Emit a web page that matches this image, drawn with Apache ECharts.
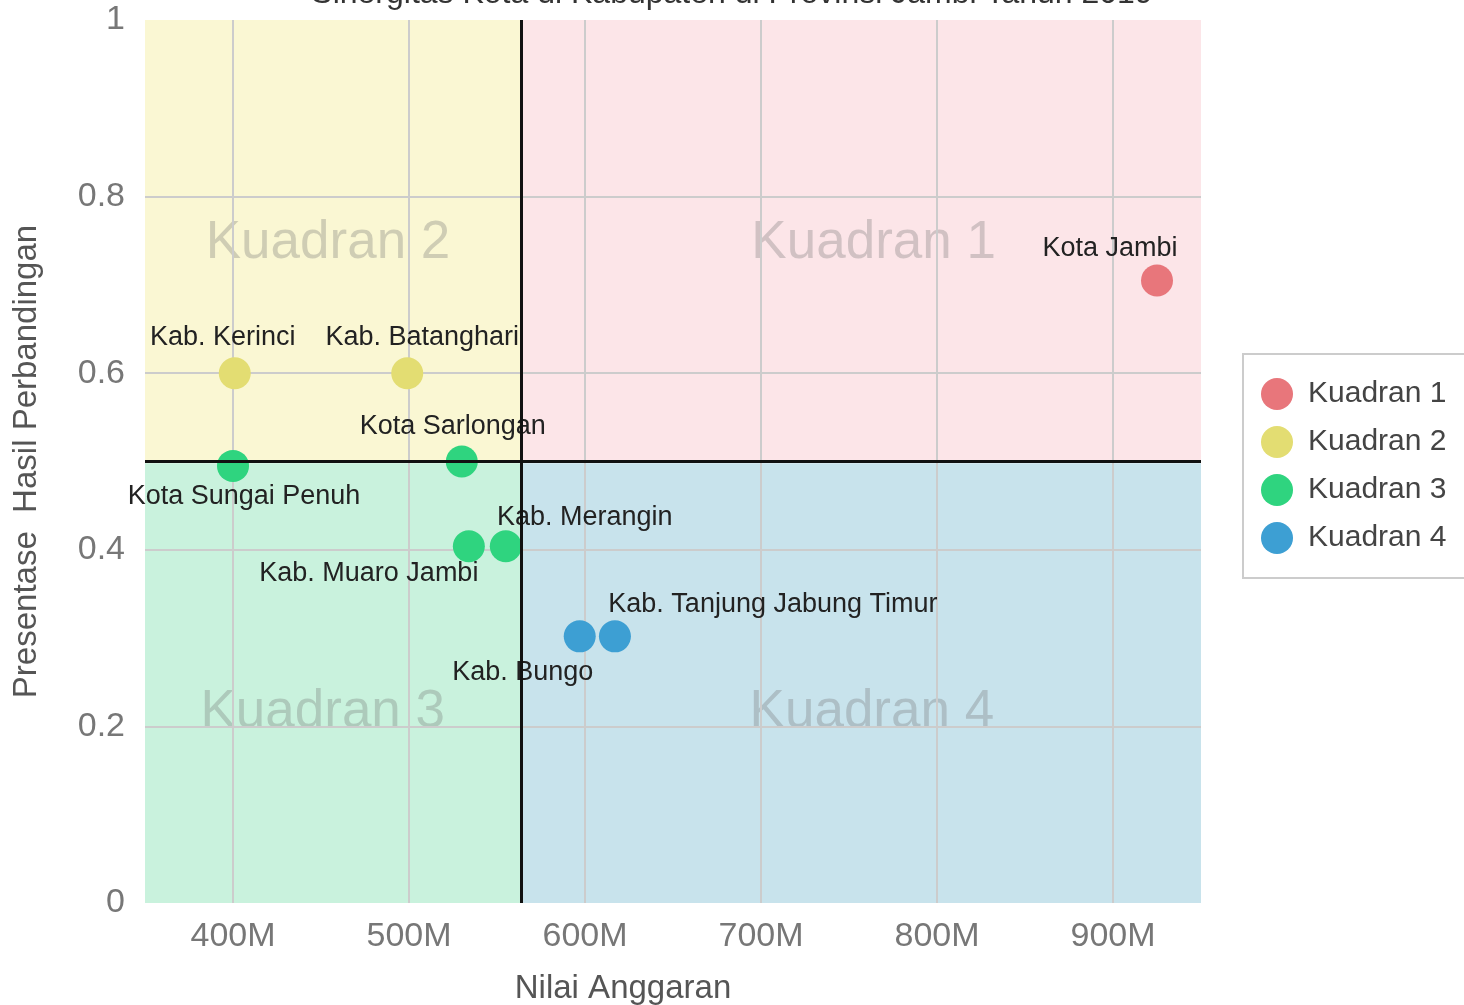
<!DOCTYPE html>
<html>
<head>
<meta charset="utf-8">
<script src="https://cdn.jsdelivr.net/npm/echarts@6/dist/echarts.min.js"></script>
<style>
  html, body { margin: 0; padding: 0; background: #fff; }
  #chart { width: 1464px; height: 1005px; }
</style>
</head>
<body>
<div id="chart"></div>
<script>
'use strict';

// points per quadrant: [nilai anggaran, presentase, nama]
const kuadran1 = [[925e6, 0.705, 'Kota Jambi']];
const kuadran2 = [[401e6, 0.6, 'Kab. Kerinci'], [499e6, 0.6, 'Kab. Batanghari']];
const kuadran3 = [
    [400e6, 0.495, 'Kota Sungai Penuh'],
    [530e6, 0.5, 'Kota Sarlongan'],
    [534e6, 0.404, 'Kab. Muaro Jambi'],
    [555e6, 0.404, 'Kab. Merangin'],
];
const kuadran4 = [[597e6, 0.302, 'Kab. Bungo'], [617e6, 0.302, 'Kab. Tanjung Jabung Timur']];

const seriesNames = ['Kuadran 1', 'Kuadran 2', 'Kuadran 3', 'Kuadran 4'];
const quadLabels = [[764e6, 0.747, 'Kuadran 1'], [454e6, 0.747, 'Kuadran 2'], [451e6, 0.216, 'Kuadran 3'], [763e6, 0.216, 'Kuadran 4']];

const xDivider = 564e6;
const yDivider = 0.498;
const xMin = 350e6;
const xMax = 950e6;
const yMin = 0;
const yMax = 1;

// quadrant backgrounds: [x0, y0, x1, y1]
const quadrants = [
    [xDivider, yDivider, xMax, yMax],
    [xMin, yDivider, xDivider, yMax],
    [xMin, yMin, xDivider, yDivider],
    [xDivider, yMin, xMax, yDivider],
];

// label placement around each point (px)
const labelOffsets = {
    'Kota Jambi': [-47, -32],
    'Kab. Kerinci': [-12, -36],
    'Kab. Batanghari': [15, -36],
    'Kota Sarlongan': [-9, -35],
    'Kota Sungai Penuh': [11, 31],
    'Kab. Merangin': [79, -29],
    'Kab. Muaro Jambi': [-100, 27],
    'Kab. Tanjung Jabung Timur': [158, -32],
    'Kab. Bungo': [-57, 36],
};

const colors = ['#e8767b', '#e3dd72', '#2fd47f', '#3d9fd3'];
const bgColors = ['#fce5e8', '#faf7d3', '#c9f2dd', '#c8e3ec'];
const font = 'Liberation Sans, Arial, sans-serif';

document.addEventListener('DOMContentLoaded', () => {
    const chart = echarts.init(document.getElementById('chart'));

    const pointSeries = [kuadran1, kuadran2, kuadran3, kuadran4].map((pts, i) => ({
        name: seriesNames[i],
        type: 'scatter',
        z: 3,
        symbolSize: 32,
        itemStyle: { color: colors[i], opacity: 1 },
        data: pts.map((p) => ({
            value: [p[0], p[1]],
            name: p[2],
            label: {
                show: true,
                position: 'inside',
                offset: labelOffsets[p[2]],
                formatter: p[2],
                color: '#222',
                fontSize: 27,
                fontFamily: font,
            },
        })),
    }));

    chart.setOption({
        animation: false,
        title: {
            text: 'Sinergitas Kota di Kabupaten di Provinsi Jambi Tahun 2019',
            left: 'center',
            top: -27,
            textStyle: { fontSize: 32, fontWeight: 'normal', color: '#333', fontFamily: font },
        },
        legend: {
            data: seriesNames,
            orient: 'vertical',
            left: 1243,
            top: 354,
            padding: [24, 40, 24, 18],
            itemWidth: 32,
            itemHeight: 32,
            itemGap: 16,
            icon: 'circle',
            borderColor: '#ccc',
            borderWidth: 2,
            textStyle: { fontSize: 30, color: '#444', fontFamily: font, padding: [0, 0, 0, 10] },
        },
        grid: { left: 145, right: 263, top: 20, bottom: 102, outerBoundsMode: 'none' },
        xAxis: {
            type: 'value',
            z: 2,
            min: xMin,
            max: xMax,
            splitNumber: 6,
            name: 'Nilai Anggaran',
            nameLocation: 'middle',
            nameGap: 69,
            nameTextStyle: { fontSize: 33, color: '#555', fontFamily: font, padding: [0, 100, 0, 0] },
            axisLine: { show: false },
            axisTick: { show: false },
            axisLabel: {
                fontSize: 34, color: '#777', fontFamily: font, margin: 17,
                showMinLabel: false, showMaxLabel: false,
                formatter: (v) => Math.round(v / 1e6) + 'M',
            },
            splitLine: { show: true, showMinLine: false, showMaxLine: false, lineStyle: { color: '#cccccc', width: 2 } },
        },
        yAxis: {
            type: 'value',
            z: 2,
            min: yMin,
            max: yMax,
            interval: 0.2,
            name: 'Presentase  Hasil Perbandingan',
            nameLocation: 'middle',
            nameGap: 102,
            nameTextStyle: { fontSize: 33, color: '#555', fontFamily: font },
            axisLine: { show: false },
            axisTick: { show: false },
            axisLabel: { fontSize: 34, color: '#777', fontFamily: font, margin: 20 },
            splitLine: { show: true, showMinLine: false, showMaxLine: false, lineStyle: { color: '#cccccc', width: 2 } },
        },
        series: [
            {
                name: 'latar',
                type: 'custom',
                z: 1,
                silent: true,
                data: quadrants.map((q, i) => [...q, i]),
                renderItem: (params, api) => {
                    const tl = api.coord([api.value(0), api.value(3)]);
                    const br = api.coord([api.value(2), api.value(1)]);
                    return {
                        type: 'rect',
                        shape: { x: tl[0], y: tl[1], width: br[0] - tl[0], height: br[1] - tl[1] },
                        style: { fill: bgColors[api.value(4)] },
                    };
                },
            },
            {
                name: 'label kuadran',
                type: 'scatter',
                z: 1,
                symbolSize: 0,
                silent: true,
                data: quadLabels.map((q) => ({ value: [q[0], q[1]], name: q[2] })),
                label: {
                    show: true,
                    position: 'inside',
                    formatter: (p) => p.name,
                    fontSize: 53,
                    color: 'rgba(110, 110, 110, 0.38)',
                    fontFamily: font,
                },
                markLine: {
                    silent: true,
                    z: 5,
                    symbol: 'none',
                    label: { show: false },
                    lineStyle: { color: '#111', width: 3, type: 'solid' },
                    data: [{ xAxis: xDivider }, { yAxis: yDivider }],
                },
            },
            ...pointSeries,
        ],
    });
});
</script>
</body>
</html>
